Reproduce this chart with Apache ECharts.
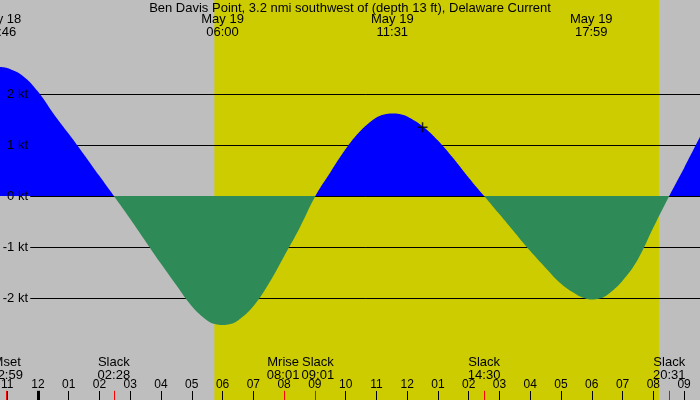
<!DOCTYPE html>
<html>
<head>
<meta charset="utf-8">
<script src="https://cdn.jsdelivr.net/npm/echarts@6/dist/echarts.min.js"></script>
<style>
  html, body { margin: 0; padding: 0; background: #bebebe; }
  #chart { width: 700px; height: 400px; }
</style>
</head>
<body>
<div id="chart"></div>
<script>
// all times are hours counted from May 19 00:00 (negative = May 18)
const startStamp = ['May 18', '22:46'];
const endStamp = ['May 19', '21:31'];
const sunrise = 5.733;     // 05:44
const sunset = 20.183;     // 20:11

// current speed (kt, + flood / - ebb)
const tideHours = [-1.2333, -1, -0.5, 0, 0.5, 1, 1.5, 2, 2.467, 3, 3.5, 4, 4.5, 5, 5.5, 5.75, 6, 6.25, 6.5, 7, 7.5, 8, 8.5,
  9.017, 9.5, 10, 10.5, 11, 11.25, 11.517, 11.75, 12, 12.5, 13, 13.5, 14, 14.5, 15, 15.5, 16, 16.5, 17, 17.5, 17.75, 17.983,
  18.25, 18.5, 19, 19.5, 20, 20.517, 21, 21.5167];
const tideKnots = [2.53, 2.51, 2.36, 2.05, 1.62, 1.22, 0.81, 0.39, 0, -0.45, -0.89, -1.33, -1.75, -2.16, -2.44, -2.51, -2.53, -2.51, -2.44, -2.16, -1.72, -1.18, -0.63,
  0, 0.46, 0.92, 1.29, 1.54, 1.60, 1.62, 1.61, 1.56, 1.37, 1.09, 0.74, 0.36, 0, -0.36, -0.72, -1.08, -1.41, -1.72, -1.93, -2.00, -2.03,
  -2.01, -1.94, -1.66, -1.24, -0.62, 0, 0.55, 1.16];

const hourTicks = [-1, 0, 1, 2, 3, 4, 5, 6, 7, 8, 9, 10, 11, 12, 13, 14, 15, 16, 17, 18, 19, 20, 21];
const speedLevels = [-2, -1, 0, 1, 2];

const peakDates = ['May 18', 'May 19', 'May 19', 'May 19'];
const peakTimes = ['22:46', '06:00', '11:31', '17:59'];

const eventNames = ['Mset', 'Slack', 'Mrise', 'Slack', 'Slack', 'Slack'];
const eventDates = ['May 18', 'May 19', 'May 19', 'May 19', 'May 19', 'May 19'];
const eventTimes = ['22:59', '02:28', '08:01', '09:01', '14:30', '20:31'];

const nowHour = 12.5;
const nowKnots = 1.35;

const FONT = 'Liberation Sans';
// Mrise and the 09:01 slack are pushed apart a little, as in the original
const eventNudge = ['n', 'n', 'l', 'r', 'n', 'n'];

function toHours(date, hhmm) {
  const [h, m] = hhmm.split(':').map(Number);
  return h + m / 60 - (date === 'May 18' ? 24 : 0);
}
const startTime = toHours(startStamp[0], startStamp[1]);
const endTime = toHours(endStamp[0], endStamp[1]);
const peakHours = peakTimes.map((t, i) => toHours(peakDates[i], t));
const eventHours = eventTimes.map((t, i) => toHours(eventDates[i], t));

function findIdx(list, v) {
  return list.findIndex(x => Math.abs(x - v) < 1e-6);
}

const chart = echarts.init(document.getElementById('chart'));

const baseX = {
  type: 'value', min: startTime, max: endTime, z: 5,
  axisLine: { show: false, onZero: false },
  splitLine: { show: false }
};
const evText = { fontFamily: FONT, fontSize: 13, color: '#000', lineHeight: 13 };

const option = {
  animation: false,
  textStyle: { fontFamily: FONT },
  title: {
    text: 'Ben Davis Point, 3.2 nmi southwest of (depth 13 ft), Delaware Current',
    left: 'center',
    top: 1,
    padding: 0,
    textStyle: { fontFamily: FONT, fontSize: 13, fontWeight: 'normal', color: '#000', lineHeight: 15 }
  },
  grid: {
    left: 0, right: 0, top: 0, bottom: 0,
    outerBoundsMode: 'none', containLabel: false,
    show: true, backgroundColor: '#bebebe', borderWidth: 0
  },
  xAxis: [
    Object.assign({}, baseX, {
      position: 'bottom',
      axisTick: { show: true, inside: true, length: 9, customValues: hourTicks, lineStyle: { color: '#000', width: 1 } },
      axisLabel: {
        inside: true, margin: 8, customValues: hourTicks,
        fontFamily: FONT, fontSize: 12, color: '#000', lineHeight: 14,
        formatter: v => {
          let h = ((Math.round(v) % 12) + 12) % 12;
          if (h === 0) h = 12;
          return String(h).padStart(2, '0');
        }
      }
    }),
    Object.assign({}, baseX, {
      position: 'bottom',
      axisTick: { show: false },
      axisLabel: Object.assign({
        inside: true, margin: 18, customValues: eventHours,
        rich: {
          n: Object.assign({}, evText),
          l: Object.assign({ padding: [0, 3, 0, 0] }, evText),
          r: Object.assign({ padding: [0, 0, 0, 5] }, evText)
        },
        formatter: v => {
          const i = findIdx(eventHours, v);
          if (i < 0) return '';
          const k = eventNudge[i];
          return '{' + k + '|' + eventNames[i] + '}\n{' + k + '|' + eventTimes[i] + '}';
        }
      }, evText)
    }),
    Object.assign({}, baseX, {
      position: 'top',
      axisTick: { show: false },
      axisLabel: {
        inside: true, margin: 13, customValues: peakHours,
        fontFamily: FONT, fontSize: 13, color: '#000', lineHeight: 13,
        formatter: v => {
          const i = findIdx(peakHours, v);
          return i < 0 ? '' : peakDates[i] + '\n' + peakTimes[i];
        }
      }
    })
  ],
  yAxis: {
    type: 'value',
    min: -4,
    max: 196 / 51,
    interval: 1,
    z: 5,
    axisLine: { show: false, onZero: false },
    axisTick: { show: false },
    splitLine: { show: false },
    axisLabel: {
      margin: -28, align: 'right',
      fontFamily: FONT, fontSize: 13, color: '#000',
      formatter: v => (speedLevels.indexOf(v) >= 0 ? v + ' kt' : '')
    }
  },
  visualMap: {
    show: false,
    type: 'piecewise',
    seriesIndex: 0,
    dimension: 1,
    pieces: [
      { min: -4, max: 0, color: '#2e8b57' },
      { gt: 0, max: 4, color: '#0000ff' }
    ]
  },
  series: [
    {
      type: 'line',
      z: 3,
      data: tideHours.map((h, i) => [h, tideKnots[i]]),
      smooth: 0.4,
      showSymbol: false,
      lineStyle: { width: 0 },
      areaStyle: { opacity: 1 },
      markArea: {
        silent: true,
        z: 1,
        itemStyle: { color: '#cccc00' },
        data: [[{ xAxis: sunrise }, { xAxis: sunset }]]
      },
      markLine: {
        silent: true,
        z: 2,
        symbol: 'none',
        label: { show: false },
        lineStyle: { color: '#000', width: 1, type: 'solid' },
        data: speedLevels.map(v => [{ coord: [-0.25, v] }, { coord: [endTime, v] }])
      }
    },
    {
      type: 'line',
      data: [],
      markLine: {
        silent: true,
        z: 6,
        symbol: 'none',
        label: { show: false },
        data: eventHours.map(h => [
          { coord: [h, -4], lineStyle: { color: '#ff0000', width: 1, type: 'solid' } },
          { coord: [h, -3.82] }
        ]).concat([[
          { coord: [0, -4], lineStyle: { color: '#000', width: 3, type: 'solid' } },
          { coord: [0, -3.82] }
        ]])
      }
    },
    {
      type: 'scatter',
      z: 7,
      data: [[nowHour, nowKnots]],
      symbol: 'path://M5,0V10M0,5H10',
      symbolSize: 10,
      itemStyle: { color: 'rgba(0,0,0,0)', borderColor: '#000', borderWidth: 1.5 }
    }
  ]
};

chart.setOption(option);
</script>
</body>
</html>
